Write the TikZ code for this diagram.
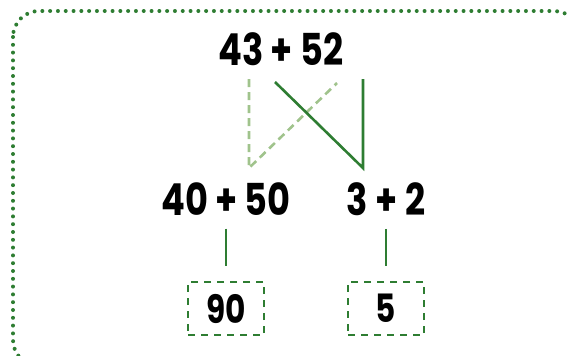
\documentclass[tikz,border=0pt]{standalone}
\usepackage{fontspec}
\newfontfamily\handfont{Poppins}[FakeStretch=0.8]
\usepackage{xcolor}
\usepackage{tikz}
\definecolor{leaf}{RGB}{46,125,50}
\definecolor{sage}{RGB}{160,195,140}

\begin{document}
\begin{tikzpicture}[x=1pt, y=-1pt,
  sum/.style={font=\handfont\bfseries\fontsize{44}{44}\selectfont, inner sep=0pt},
  res/.style={draw=leaf, line width=2.5pt, dash pattern=on 7pt off 6pt, minimum width=76pt, minimum height=53pt,
    font=\handfont\bfseries\fontsize{39}{39}\selectfont},
  ln/.style={draw=leaf, line width=2.6pt},
  lt/.style={draw=sage, line width=2.6pt, dash pattern=on 8pt off 5pt}
]
\useasboundingbox (0,0) rectangle (568,356);
% dotted frame
\draw[leaf, line width=4pt, line cap=round, dash pattern=on 0pt off 7.8pt, rounded corners=26pt]
  (13,11) rectangle (580,366);

\node[sum] (top) at (281,49) {43 + 52};
\node[sum] (l) at (226,199) {40 + 50};
\node[sum] (r) at (386,199) {3 + 2};
\node[res] (bl) at (226,308.5) {90};
\node[res] (br) at (386,308.5) {5};

% split ends
\coordinate (tl) at (249,79);
\coordinate (tm) at (337,83);
\coordinate (tn) at (275,82);
\coordinate (tr) at (363,79);
\coordinate (ll) at (249,168);
\coordinate (rr) at (363,168);
\draw[lt] (tl) -- (ll) -- (tm);
\draw[ln] (tn) -- (rr) -- (tr);

\draw[ln, shorten <=13pt, shorten >=15pt] (l) -- (bl);
\draw[ln, shorten <=13pt, shorten >=15pt] (r) -- (br);
\end{tikzpicture}
\end{document}
